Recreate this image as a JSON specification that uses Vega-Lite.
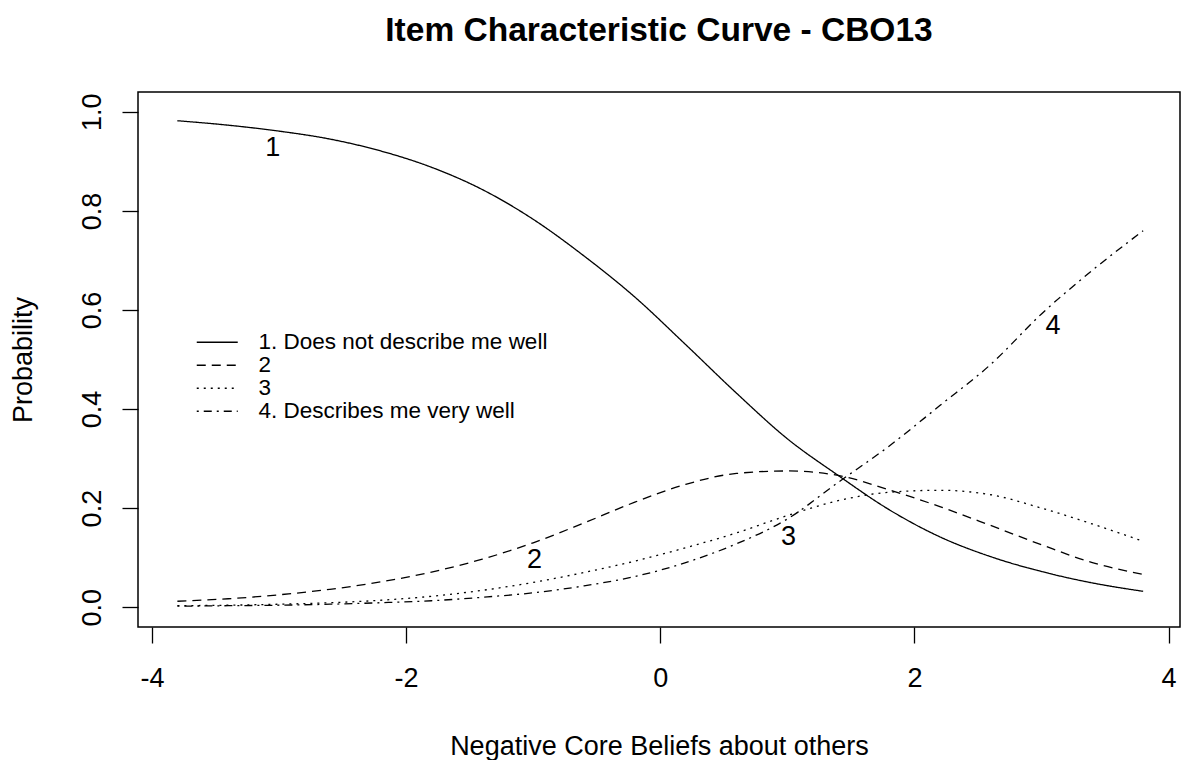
{
  "$schema": "https://vega.github.io/schema/vega-lite/v6.json",
  "width": 1042,
  "height": 535,
  "autosize": {"type": "none"},
  "padding": {"left": 138, "top": 92, "right": 1, "bottom": 133},
  "background": "white",
  "title": {
    "text": "Item Characteristic Curve - CBO13",
    "font": "Liberation Sans",
    "fontSize": 33.5,
    "fontWeight": "bold",
    "color": "black",
    "anchor": "middle",
    "baseline": "alphabetic",
    "offset": 18
  },
  "config": {
    "view": {"stroke": "black", "strokeWidth": 1.5},
    "axis": {
      "domain": false,
      "grid": false,
      "ticks": true,
      "tickColor": "black",
      "tickWidth": 1.3,
      "tickSize": 16,
      "labelFont": "Liberation Sans",
      "labelFontSize": 27,
      "labelColor": "black",
      "labelFlush": false,
      "labelOverlap": false,
      "titleFont": "Liberation Sans",
      "titleFontSize": 27,
      "titleFontWeight": "normal",
      "titleColor": "black"
    }
  },
  "datasets": {
    "curves": [
      {"theta": -3.8, "prob": 0.982, "category": "1. Does not describe me well"},
      {"theta": -3.4, "prob": 0.973, "category": "1. Does not describe me well"},
      {"theta": -3.0, "prob": 0.961, "category": "1. Does not describe me well"},
      {"theta": -2.6, "prob": 0.945, "category": "1. Does not describe me well"},
      {"theta": -2.2, "prob": 0.921, "category": "1. Does not describe me well"},
      {"theta": -1.8, "prob": 0.888, "category": "1. Does not describe me well"},
      {"theta": -1.4, "prob": 0.843, "category": "1. Does not describe me well"},
      {"theta": -1.0, "prob": 0.783, "category": "1. Does not describe me well"},
      {"theta": -0.6, "prob": 0.709, "category": "1. Does not describe me well"},
      {"theta": -0.2, "prob": 0.626, "category": "1. Does not describe me well"},
      {"theta": 0.2, "prob": 0.530, "category": "1. Does not describe me well"},
      {"theta": 0.6, "prob": 0.432, "category": "1. Does not describe me well"},
      {"theta": 1.0, "prob": 0.340, "category": "1. Does not describe me well"},
      {"theta": 1.4, "prob": 0.266, "category": "1. Does not describe me well"},
      {"theta": 1.8, "prob": 0.197, "category": "1. Does not describe me well"},
      {"theta": 2.2, "prob": 0.142, "category": "1. Does not describe me well"},
      {"theta": 2.6, "prob": 0.102, "category": "1. Does not describe me well"},
      {"theta": 3.0, "prob": 0.072, "category": "1. Does not describe me well"},
      {"theta": 3.4, "prob": 0.049, "category": "1. Does not describe me well"},
      {"theta": 3.8, "prob": 0.032, "category": "1. Does not describe me well"},
      {"theta": -3.8, "prob": 0.012, "category": "2"},
      {"theta": -3.4, "prob": 0.017, "category": "2"},
      {"theta": -3.0, "prob": 0.025, "category": "2"},
      {"theta": -2.6, "prob": 0.036, "category": "2"},
      {"theta": -2.2, "prob": 0.051, "category": "2"},
      {"theta": -1.8, "prob": 0.071, "category": "2"},
      {"theta": -1.4, "prob": 0.097, "category": "2"},
      {"theta": -1.0, "prob": 0.130, "category": "2"},
      {"theta": -0.6, "prob": 0.170, "category": "2"},
      {"theta": -0.2, "prob": 0.212, "category": "2"},
      {"theta": 0.2, "prob": 0.248, "category": "2"},
      {"theta": 0.6, "prob": 0.270, "category": "2"},
      {"theta": 1.0, "prob": 0.275, "category": "2"},
      {"theta": 1.4, "prob": 0.266, "category": "2"},
      {"theta": 1.8, "prob": 0.237, "category": "2"},
      {"theta": 2.2, "prob": 0.203, "category": "2"},
      {"theta": 2.6, "prob": 0.165, "category": "2"},
      {"theta": 3.0, "prob": 0.126, "category": "2"},
      {"theta": 3.4, "prob": 0.090, "category": "2"},
      {"theta": 3.8, "prob": 0.066, "category": "2"},
      {"theta": -3.8, "prob": 0.003, "category": "3"},
      {"theta": -3.4, "prob": 0.004, "category": "3"},
      {"theta": -3.0, "prob": 0.006, "category": "3"},
      {"theta": -2.6, "prob": 0.009, "category": "3"},
      {"theta": -2.2, "prob": 0.014, "category": "3"},
      {"theta": -1.8, "prob": 0.022, "category": "3"},
      {"theta": -1.4, "prob": 0.034, "category": "3"},
      {"theta": -1.0, "prob": 0.050, "category": "3"},
      {"theta": -0.6, "prob": 0.070, "category": "3"},
      {"theta": -0.2, "prob": 0.093, "category": "3"},
      {"theta": 0.2, "prob": 0.120, "category": "3"},
      {"theta": 0.6, "prob": 0.150, "category": "3"},
      {"theta": 1.0, "prob": 0.185, "category": "3"},
      {"theta": 1.4, "prob": 0.215, "category": "3"},
      {"theta": 1.8, "prob": 0.232, "category": "3"},
      {"theta": 2.2, "prob": 0.236, "category": "3"},
      {"theta": 2.6, "prob": 0.227, "category": "3"},
      {"theta": 3.0, "prob": 0.200, "category": "3"},
      {"theta": 3.4, "prob": 0.168, "category": "3"},
      {"theta": 3.8, "prob": 0.133, "category": "3"},
      {"theta": -3.8, "prob": 0.002, "category": "4. Describes me very well"},
      {"theta": -3.4, "prob": 0.003, "category": "4. Describes me very well"},
      {"theta": -3.0, "prob": 0.004, "category": "4. Describes me very well"},
      {"theta": -2.6, "prob": 0.006, "category": "4. Describes me very well"},
      {"theta": -2.2, "prob": 0.009, "category": "4. Describes me very well"},
      {"theta": -1.8, "prob": 0.013, "category": "4. Describes me very well"},
      {"theta": -1.4, "prob": 0.020, "category": "4. Describes me very well"},
      {"theta": -1.0, "prob": 0.029, "category": "4. Describes me very well"},
      {"theta": -0.6, "prob": 0.043, "category": "4. Describes me very well"},
      {"theta": -0.2, "prob": 0.062, "category": "4. Describes me very well"},
      {"theta": 0.2, "prob": 0.090, "category": "4. Describes me very well"},
      {"theta": 0.6, "prob": 0.128, "category": "4. Describes me very well"},
      {"theta": 1.0, "prob": 0.178, "category": "4. Describes me very well"},
      {"theta": 1.4, "prob": 0.252, "category": "4. Describes me very well"},
      {"theta": 1.8, "prob": 0.325, "category": "4. Describes me very well"},
      {"theta": 2.2, "prob": 0.407, "category": "4. Describes me very well"},
      {"theta": 2.6, "prob": 0.490, "category": "4. Describes me very well"},
      {"theta": 3.0, "prob": 0.592, "category": "4. Describes me very well"},
      {"theta": 3.4, "prob": 0.680, "category": "4. Describes me very well"},
      {"theta": 3.8, "prob": 0.760, "category": "4. Describes me very well"}
    ],
    "labels": [
      {"theta": -3.05, "prob": 0.926, "label": "1"},
      {"theta": -0.99, "prob": 0.095, "label": "2"},
      {"theta": 1.01, "prob": 0.142, "label": "3"},
      {"theta": 3.09, "prob": 0.567, "label": "4"}
    ]
  },
  "layer": [
    {
      "data": {"name": "curves"},
      "mark": {"type": "line", "color": "black", "strokeWidth": 1.3, "interpolate": "monotone"},
      "encoding": {
        "x": {
          "field": "theta",
          "type": "quantitative",
          "scale": {"domain": [-4.11, 4.09], "nice": false, "zero": false},
          "axis": {
            "values": [-4, -2, 0, 2, 4],
            "labelExpr": "datum.value < 0 ? '-' + abs(datum.value) : '' + datum.value",
            "labelBaseline": "alphabetic",
            "labelPadding": 43,
            "title": "Negative Core Beliefs about others",
            "titleBaseline": "alphabetic",
            "titleAlign": "center",
            "titleX": 521,
            "titleY": 127
          }
        },
        "y": {
          "field": "prob",
          "type": "quantitative",
          "scale": {"domain": [-0.04, 1.04], "nice": false, "zero": false},
          "axis": {
            "values": [0, 0.2, 0.4, 0.6, 0.8, 1.0],
            "format": ".1f",
            "labelAngle": 270,
            "labelAlign": "center",
            "labelBaseline": "alphabetic",
            "labelPadding": 22,
            "title": "Probability",
            "titleAngle": 270,
            "titleAlign": "center",
            "titleBaseline": "alphabetic",
            "titleX": -106.5,
            "titleY": 267.5
          }
        },
        "strokeDash": {
          "field": "category",
          "type": "nominal",
          "scale": {
            "domain": ["1. Does not describe me well", "2", "3", "4. Describes me very well"],
            "range": [[1, 0], [9, 6], [2, 5], [2, 5, 8, 5]]
          },
          "legend": {
            "title": null,
            "orient": "none",
            "legendX": 68,
            "legendY": 239,
            "padding": 0,
            "symbolType": "M-2,0H2",
            "symbolSize": 420,
            "symbolStrokeColor": "black",
            "symbolStrokeWidth": 1.3,
            "labelFont": "Liberation Sans",
            "labelFontSize": 22.5,
            "labelColor": "black",
            "labelOffset": 30,
            "labelLimit": 0,
            "rowPadding": -1.6
          }
        }
      }
    },
    {
      "data": {"name": "labels"},
      "mark": {"type": "text", "font": "Liberation Sans", "fontSize": 27, "color": "black"},
      "encoding": {
        "x": {"field": "theta", "type": "quantitative"},
        "y": {"field": "prob", "type": "quantitative"},
        "text": {"field": "label"}
      }
    }
  ]
}
